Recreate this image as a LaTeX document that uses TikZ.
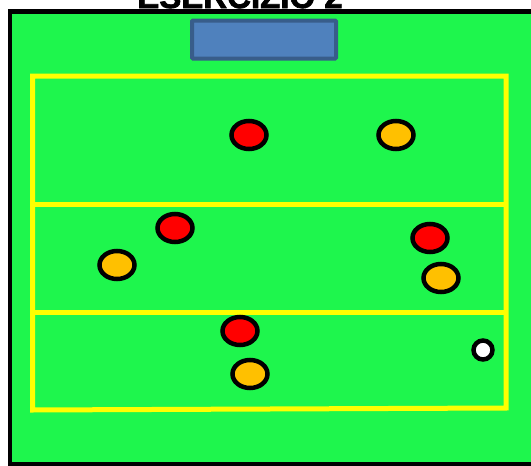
\documentclass[tikz,border=0pt]{standalone}
\usepackage{fontspec}
\setmainfont{Liberation Sans}
\usetikzlibrary{shapes.geometric}
\definecolor{field}{RGB}{30,246,77}
\definecolor{goalfill}{RGB}{79,129,189}
\definecolor{goaldraw}{RGB}{56,93,138}
\definecolor{lineyel}{RGB}{255,255,0}
\definecolor{teamred}{RGB}{255,0,0}
\definecolor{teamorange}{RGB}{255,192,0}
\tikzset{
  player/.style={ellipse,draw=black,line width=4.5pt,inner sep=0pt,minimum width=35pt,minimum height=28pt},
  redp/.style={player,fill=teamred},
  orangep/.style={player,fill=teamorange},
  ballp/.style={circle,draw=black,line width=4.5pt,fill=white,inner sep=0pt,minimum size=19pt},
  fieldline/.style={draw=lineyel,line width=5pt},
}
\begin{document}
\begin{tikzpicture}[x=1pt,y=-1pt]
\useasboundingbox (0,0) rectangle (531,466);
\fill[white] (0,0) rectangle (531,466);
% title (cut off at top)
\node[anchor=base,font=\bfseries\fontsize{33}{33}\selectfont\addfontfeature{FakeBold=2},inner sep=0pt] (title) at (240,8) {ESERCIZIO 2};
% field
\draw[fill=field,line width=4.5pt] (10,11.5) rectangle (540,464);
% goal
\draw[fill=goalfill,draw=goaldraw,line width=4pt,rounded corners=1pt] (192,20.5) rectangle (336,58.5);
% yellow lines
\draw[fieldline] (32.5,76) -- (506,76) -- (506,408) -- (32.5,410) -- cycle;
\draw[fieldline] (35,204) -- (506,204);
\draw[fieldline] (35,312) -- (506,312);
% players
\node[redp] (r1) at (249,135) {};
\node[orangep] (o1) at (396,135) {};
\node[redp] (r2) at (175,228) {};
\node[orangep] (o2) at (117,265) {};
\node[redp] (r3) at (430,238) {};
\node[orangep] (o3) at (441,278) {};
\node[redp] (r4) at (240,331) {};
\node[orangep] (o4) at (250,374) {};
\node[ballp] (ball) at (483,350) {};
\end{tikzpicture}
\end{document}
